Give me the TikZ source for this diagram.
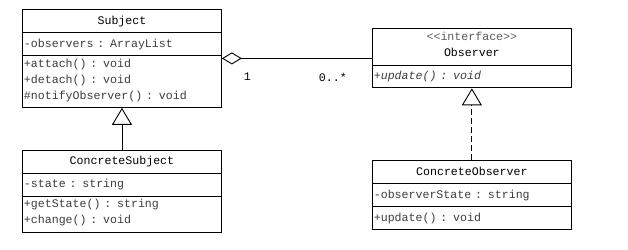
\documentclass[tikz,border=0pt]{standalone}
\usepackage{fontspec}
\setmonofont{Liberation Mono}
\usepackage{tikz}
\usetikzlibrary{shapes,arrows.meta,positioning}
\usepackage{xcolor}
\definecolor{membercol}{RGB}{60,60,60}
\definecolor{stereocol}{RGB}{90,90,90}
\newcommand{\classtitle}[1]{\makebox[196pt][c]{#1}}

\begin{document}
\begin{tikzpicture}[
    x=1pt, y=-1pt,
    umlclass/.style={rectangle split, rectangle split parts=3, draw=black, line width=0.9pt,
        text width=196pt, inner xsep=1.5pt, inner ysep=3pt, align=left,
        font=\ttfamily\fontsize{11.6}{16}\selectfont},
    aggr/.style={{Diamond[open, length=20pt, width=12pt]}-, line width=0.9pt},
    inherit/.style={-{Triangle[open, length=17pt, width=20pt]}, line width=0.9pt},
    realize/.style={inherit, dash pattern=on 6pt off 3pt},
    multlabel/.style={font=\ttfamily\fontsize{11.6}{16}\selectfont, inner sep=0pt},
]
\useasboundingbox (0,0) rectangle (628,249);

% ============ SUBJECT ============
\node[umlclass, anchor=north west] (subject) at (22,9) {
\classtitle{Subject}\strut
\nodepart{two}\color{membercol}-observers : ArrayList\strut
\nodepart{three}\color{membercol}+attach() : void\\
+detach() : void\\
\#notifyObserver() : void\strut
};

% ============ OBSERVER (interface) ============
\node[umlclass, rectangle split parts=2, right=150pt of subject] (observer) {
\classtitle{\color{stereocol}<<interface>>}\\
\classtitle{Observer}\strut
\nodepart{two}\color{membercol}\itshape +update() : void\strut
};

% ============ CONCRETE CLASSES ============
\node[umlclass, below=42pt of subject] (csubject) {
\classtitle{ConcreteSubject}\strut
\nodepart{two}\color{membercol}-state : string\strut
\nodepart{three}\color{membercol}+getState() : string\\
+change() : void\strut
};

\node[umlclass, below=72pt of observer] (cobserver) {
\classtitle{ConcreteObserver}\strut
\nodepart{two}\color{membercol}-observerState : string\strut
\nodepart{three}\color{membercol}+update() : void\strut
};

% ============ RELATIONS ============
\draw[aggr] (subject.east) -- (observer.west)
  node[pos=0.17, below=14pt, multlabel] (onelbl) {1}
  node[pos=0.74, below=14pt, multlabel] (manylbl) {0..*};
\draw[inherit] (csubject.north) -- (subject.south);
\draw[realize] (cobserver.north) -- (observer.south);

\end{tikzpicture}
\end{document}
